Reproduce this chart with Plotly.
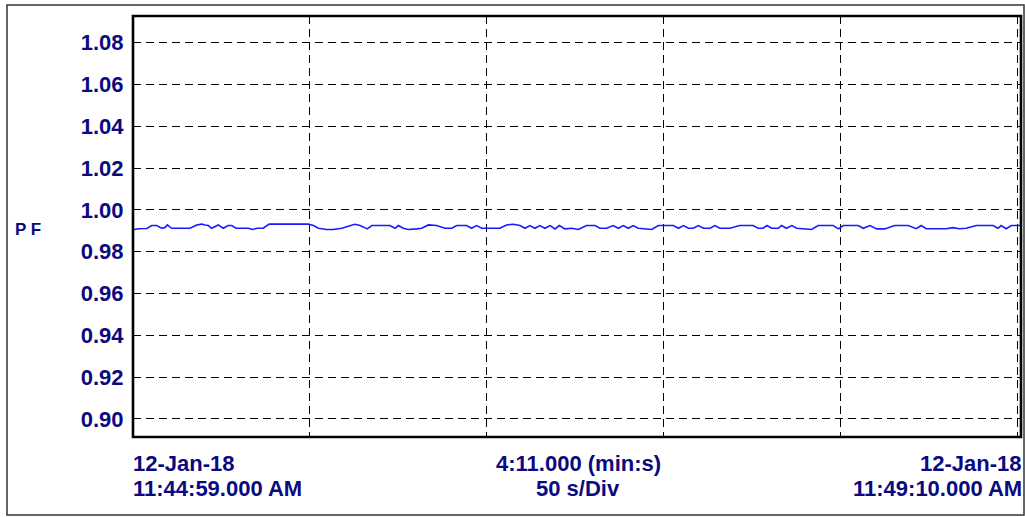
import plotly.graph_objects as go

# Power factor trace, elapsed seconds from 11:44:59.000 AM
elapsed_s = [
    0.0, 1.5, 3.9, 5.3, 6.7, 8.1, 9.0, 9.7, 10.9, 16.1, 18.0, 19.4, 20.3, 21.3,
    22.2, 24.1, 25.5, 26.9, 27.9, 29.1, 32.6, 33.8, 35.0, 36.8, 38.5, 41.5, 49.5,
    51.0, 52.4, 54.7, 56.6, 59.0, 61.3, 62.7, 64.2, 66.2, 67.5, 69.8, 72.6, 74.1,
    75.0, 76.4, 77.8, 80.2, 81.6, 83.5, 85.8, 88.2, 90.1, 91.5, 94.3, 95.7, 97.1,
    98.6, 100.0, 103.7, 105.6, 107.5, 109.4, 110.8, 112.2, 113.6, 115.0, 116.4,
    117.9, 119.3, 120.5, 122.1, 124.0, 125.9, 128.2, 130.6, 132.0, 133.9, 135.7,
    137.2, 138.6, 140.0, 141.4, 142.8, 146.6, 148.5, 152.7, 154.2, 155.6, 157.0,
    158.4, 159.8, 161.2, 163.1, 164.5, 165.9, 168.7, 171.5, 175.3, 176.7, 178.1,
    179.2, 180.5, 182.4, 183.3, 184.7, 186.2, 187.6, 191.8, 193.7, 197.9, 199.4,
    200.8, 205.0, 206.4, 208.3, 210.2, 212.5, 215.3, 216.7, 219.1, 221.4, 222.8,
    224.2, 229.9, 231.7, 233.6, 235.5, 238.4, 243.1, 244.5, 245.4, 246.8, 248.3,
    251.0,
]
pf = [
    0.9905, 0.9910, 0.9911, 0.9925, 0.9925, 0.9912, 0.9915, 0.9928, 0.9912, 0.9912,
    0.9928, 0.9932, 0.9928, 0.9925, 0.9912, 0.9928, 0.9912, 0.9925, 0.9925, 0.9912,
    0.9912, 0.9906, 0.9912, 0.9912, 0.9932, 0.9932, 0.9932, 0.9925, 0.9912, 0.9906,
    0.9906, 0.9912, 0.9925, 0.9931, 0.9925, 0.9909, 0.9925, 0.9925, 0.9925, 0.9912,
    0.9925, 0.9912, 0.9906, 0.9909, 0.9912, 0.9928, 0.9925, 0.9912, 0.9912, 0.9925,
    0.9925, 0.9912, 0.9925, 0.9912, 0.9912, 0.9912, 0.9928, 0.9931, 0.9925, 0.9912,
    0.9925, 0.9912, 0.9925, 0.9912, 0.9925, 0.9909, 0.9925, 0.9909, 0.9912, 0.9906,
    0.9925, 0.9925, 0.9912, 0.9912, 0.9925, 0.9912, 0.9925, 0.9912, 0.9925, 0.9912,
    0.9906, 0.9925, 0.9925, 0.9912, 0.9925, 0.9912, 0.9912, 0.9925, 0.9912, 0.9912,
    0.9925, 0.9912, 0.9912, 0.9925, 0.9925, 0.9912, 0.9912, 0.9925, 0.9912, 0.9912,
    0.9925, 0.9912, 0.9925, 0.9912, 0.9906, 0.9925, 0.9925, 0.9909, 0.9925, 0.9925,
    0.9912, 0.9925, 0.9909, 0.9909, 0.9925, 0.9926, 0.9925, 0.9910, 0.9925, 0.9910,
    0.9910, 0.9915, 0.9910, 0.9912, 0.9925, 0.9925, 0.9912, 0.9925, 0.9910, 0.9925,
    0.9925,
]

y_ticks = [0.90, 0.92, 0.94, 0.96, 0.98, 1.00, 1.02, 1.04, 1.06, 1.08]
x_div = [50, 100, 150, 200, 250]
y_label = "P F"
start_lines = ["12-Jan-18", "11:44:59.000 AM"]
mid_lines = ["4:11.000 (min:s)", "50 s/Div"]
end_lines = ["12-Jan-18", "11:49:10.000 AM"]

NAVY = "#0a0a80"
FONT = "Liberation Sans, Arial, sans-serif"

fig = go.Figure()
fig.add_trace(go.Scatter(
    x=elapsed_s, y=pf, mode="lines",
    line=dict(color="#1a1aff", width=1.6, shape="linear"),
    hoverinfo="skip", showlegend=False,
))

fig.update_layout(
    width=1025, height=517,
    margin=dict(l=133, r=4, t=16, b=80),
    paper_bgcolor="white", plot_bgcolor="white",
    xaxis=dict(
        range=[0, 251], tickvals=x_div, showticklabels=False, ticks="",
        showgrid=True, gridcolor="black", gridwidth=1, griddash="8px,5px",
        zeroline=False, showline=False,
    ),
    yaxis=dict(
        range=[0.8913, 1.0928], tickvals=y_ticks, tickformat=".2f",
        ticks="outside", ticklen=4, tickcolor="rgba(0,0,0,0)",
        tickfont=dict(family=FONT, size=22, color=NAVY, weight="bold"),
        showgrid=True, gridcolor="black", gridwidth=1, griddash="8px,5px",
        zeroline=False, showline=False,
    ),
)

# plot frame
fig.add_shape(type="rect", xref="paper", yref="paper", x0=0, x1=1, y0=0, y1=1,
              line=dict(color="black", width=2.6), layer="above")
# outer border around the whole chart
fig.add_shape(type="rect", xref="paper", yref="paper",
              x0=(7 - 133) / 888, x1=(1024 - 133) / 888,
              y0=(437 - 515) / 421, y1=(437 - 5) / 421,
              line=dict(color="#333333", width=1.5), layer="above")

lbl_font = dict(family=FONT, size=22, color=NAVY, weight="bold")


def add_lines(lines, x, anchor, dx):
    for i, txt in enumerate(lines):
        fig.add_annotation(text=txt, xref="paper", yref="paper", x=x, y=0,
                           xanchor=anchor, yanchor="middle", yshift=-26 - 25 * i,
                           xshift=dx, showarrow=False, font=lbl_font)


add_lines(start_lines, 0, "left", -2)
add_lines(mid_lines, 0.5, "center", 1)
add_lines(end_lines, 1, "right", 3)

fig.add_annotation(text=y_label, xref="paper", yref="paper",
                   x=(13 - 133) / 888, y=(437 - 229) / 421,
                   xanchor="left", yanchor="middle", showarrow=False,
                   font=dict(family=FONT, size=17, color=NAVY, weight="bold"))

fig.write_html("out.html")
